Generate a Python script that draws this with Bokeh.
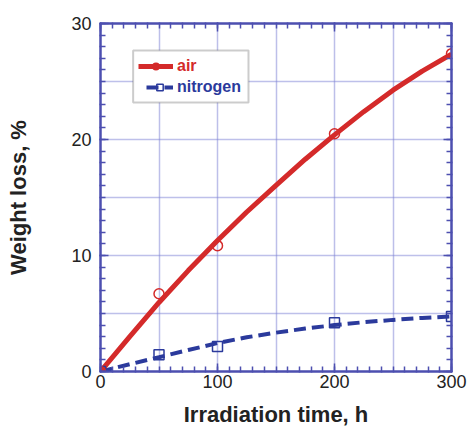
from bokeh.plotting import figure
from bokeh.models import FixedTicker, Legend, LegendItem, BoxAnnotation, LinearAxis, Range1d
from bokeh.embed import file_html
from bokeh.resources import INLINE

# measured points
time_h = [0, 50, 100, 200, 300]
air_loss = [0, 6.7, 10.85, 20.5, 27.4]
n2_loss = [0, 1.45, 2.15, 4.2, 4.75]
# smooth fit curves
fit_time = [0, 25, 50, 75, 100, 125, 150, 175, 200, 225, 250, 275, 300]
air_fit = [0, 3.0, 5.95, 8.7, 11.3, 13.75, 16.05, 18.3, 20.4, 22.4, 24.25, 25.9, 27.35]
n2_fit = [0, 0.63, 1.23, 1.85, 2.45, 2.95, 3.35, 3.7, 4.0, 4.25, 4.45, 4.62, 4.75]

RED = "#d42a2a"
BLUE = "#2b3a9c"
AX = "#4d4fb0"
GRID = "#7c80d4"

p = figure(width=468, height=432, output_backend="svg", toolbar_location=None,
           x_range=Range1d(0, 300), y_range=Range1d(0, 30),
           min_border_left=100, min_border_right=17, min_border_top=23, min_border_bottom=61)
p.outline_line_color = AX
p.outline_line_width = 2
p.background_fill_color = "white"

p.xaxis.ticker = FixedTicker(ticks=[0, 100, 200, 300], minor_ticks=list(range(0, 301, 10)))
p.yaxis.ticker = FixedTicker(ticks=[0, 10, 20, 30], minor_ticks=list(range(0, 31, 1)))
p.xgrid.ticker = FixedTicker(ticks=[50, 100, 150, 200, 250])
p.ygrid.ticker = FixedTicker(ticks=[5, 10, 15, 20, 25])
for g in (p.xgrid, p.ygrid):
    g.grid_line_color = GRID
    g.grid_line_dash = "1 1"
    g.grid_line_width = 1.5
    g.grid_line_alpha = 1


def style_ticks(ax):
    ax.axis_line_color = AX
    ax.axis_line_width = 2
    ax.major_tick_line_color = AX
    ax.minor_tick_line_color = AX
    ax.major_tick_in = 8
    ax.major_tick_out = 1
    ax.minor_tick_in = 5
    ax.minor_tick_out = 1
    ax.major_tick_line_width = 1.5
    ax.minor_tick_line_width = 1.5


for ax in (p.xaxis[0], p.yaxis[0]):
    style_ticks(ax)
    ax.major_label_text_font = "Liberation Sans"
    ax.major_label_text_font_size = "18px"
    ax.major_label_text_color = "#222222"
    ax.axis_label_text_font = "Liberation Sans"
    ax.axis_label_text_font_size = "22px"
    ax.axis_label_text_font_style = "bold"
    ax.axis_label_text_color = "#222222"

p.xaxis.axis_label = "Irradiation time, h"
p.yaxis.axis_label = "Weight loss, %"
p.xaxis.major_label_standoff = 2
p.yaxis.major_label_standoff = 8
p.xaxis.axis_label_standoff = 11
p.yaxis.axis_label_standoff = 37

# top / right mirror axes with ticks only
top_ax = LinearAxis(ticker=FixedTicker(ticks=[0, 100, 200, 300], minor_ticks=list(range(0, 301, 10))),
                    major_label_text_alpha=0, major_label_text_font_size="1px")
right_ax = LinearAxis(ticker=FixedTicker(ticks=[0, 10, 20, 30], minor_ticks=list(range(0, 31, 1))),
                      major_label_text_alpha=0, major_label_text_font_size="1px")
style_ticks(top_ax)
style_ticks(right_ax)
p.add_layout(top_ax, "above")
p.add_layout(right_ax, "right")

n2_line = p.line(fit_time, n2_fit, line_color=BLUE, line_width=4, line_dash="12 6")
air_line = p.line(fit_time, air_fit, line_color=RED, line_width=5)
n2_pts = p.scatter(time_h, n2_loss, marker="square", size=10, fill_alpha=0,
                   line_color=BLUE, line_width=1.5)
air_pts = p.scatter(time_h, air_loss, marker="circle", size=10, fill_alpha=0,
                    line_color=RED, line_width=1.5)

box = BoxAnnotation(left=27.9, right=126.5, bottom=23.2, top=27.67,
                    fill_color="white", fill_alpha=1,
                    line_color="#555555", line_width=2)
p.add_layout(box)

leg_air = Legend(items=[LegendItem(label="air", renderers=[air_line, air_pts])],
                 location=(38, 296), label_text_color=RED,
                 label_text_font="Liberation Sans", label_text_font_style="bold",
                 label_text_font_size="16px", glyph_width=35, glyph_height=16,
                 label_standoff=4, padding=0, margin=0, spacing=0,
                 border_line_alpha=0, background_fill_alpha=0)
leg_n2 = Legend(items=[LegendItem(label="nitrogen", renderers=[n2_line, n2_pts])],
                location=(46, 275), label_text_color=BLUE,
                label_text_font="Liberation Sans", label_text_font_style="bold",
                label_text_font_size="16px", glyph_width=27, glyph_height=16,
                label_standoff=4, padding=0, margin=0, spacing=0,
                border_line_alpha=0, background_fill_alpha=0)
p.add_layout(leg_air)
p.add_layout(leg_n2)

open("out.html", "w").write(file_html(p, INLINE))
